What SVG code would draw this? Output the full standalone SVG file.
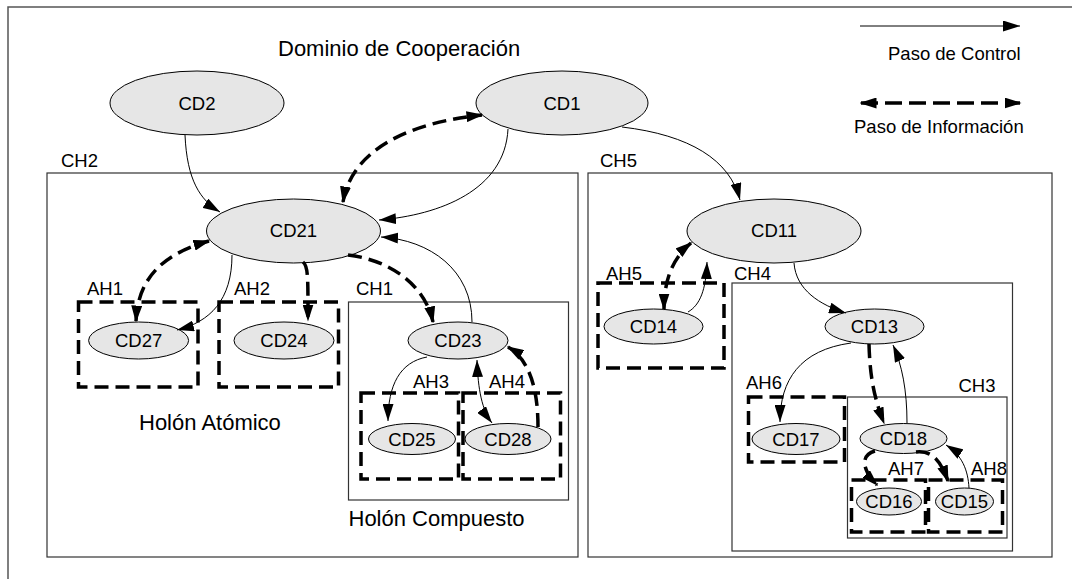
<svg xmlns="http://www.w3.org/2000/svg" width="1072" height="579" viewBox="0 0 1072 579">
<style>
text{font-family:"Liberation Sans",Arial,sans-serif;fill:#000}
.lbl{font-size:18.5px}
.big{font-size:22px}
.nt{font-size:18.5px;text-anchor:middle}
.node{fill:#e6e6e6;stroke:#000;stroke-width:1}
.ch{fill:none;stroke:#333;stroke-width:1.2}
.ah{fill:none;stroke:#000;stroke-width:3.5;stroke-dasharray:14 7}
.ctl{fill:none;stroke:#000;stroke-width:1;marker-end:url(#arr)}
.info{fill:none;stroke:#000;stroke-width:3.5;stroke-dasharray:14 7;marker-end:url(#arrD)}
.both{marker-start:url(#arrD)}
.both1{marker-start:url(#arr)}
</style>
<defs>
<marker id="arr" viewBox="0 0 17 11" refX="17" refY="5.5" markerWidth="17" markerHeight="11" markerUnits="userSpaceOnUse" orient="auto-start-reverse"><path d="M0,0 L17,5.5 L0,11 z" fill="#000"/></marker>
<marker id="arrD" viewBox="0 0 17 11" refX="15.5" refY="5.5" markerWidth="17" markerHeight="11" markerUnits="userSpaceOnUse" orient="auto-start-reverse"><path d="M0,0 L17,5.5 L0,11 z" fill="#000"/></marker>
</defs>
<rect x="0" y="0" width="1072" height="579" fill="#fff"/>
<g id="frame"><rect x="8" y="7" width="1100" height="620" fill="none" stroke="#555" stroke-width="1.5"/></g>
<text class="big" x="278" y="56">Dominio de Cooperación</text>
<g id="legend">
<path d="M860,26 L1020,26" class="ctl"/>
<text class="lbl" x="888" y="60">Paso de Control</text>
<path d="M861,103 L1020,103" class="info both" style="stroke-dasharray:17 7"/>
<text class="lbl" x="854" y="133">Paso de Información</text>
</g>
<g id="CH2"><rect class="ch" x="47" y="173" width="531" height="384"/><text class="lbl" x="61" y="167">CH2</text></g>
<g id="CH5"><rect class="ch" x="588" y="173" width="464" height="384"/><text class="lbl" x="600" y="167">CH5</text></g>
<g id="CH1"><rect class="ch" x="348.5" y="302" width="220" height="198"/><text class="lbl" x="356" y="295">CH1</text></g>
<g id="CH4"><rect class="ch" x="732" y="283" width="280.5" height="268"/><text class="lbl" x="734" y="280">CH4</text></g>
<g id="CH3"><rect class="ch" x="847.5" y="397" width="159.5" height="141"/><text class="lbl" x="958.5" y="392">CH3</text></g>
<g id="AH1"><rect class="ah" x="78.5" y="302" width="119.5" height="85"/><text class="lbl" x="87" y="295">AH1</text></g>
<g id="AH2"><rect class="ah" x="219" y="302" width="119.5" height="85"/><text class="lbl" x="234" y="295">AH2</text></g>
<g id="AH3"><rect class="ah" x="361" y="393" width="97.5" height="86"/><text class="lbl" x="413" y="388">AH3</text></g>
<g id="AH4"><rect class="ah" x="463" y="393" width="97.5" height="86"/><text class="lbl" x="489" y="388">AH4</text></g>
<g id="AH5"><rect class="ah" x="598" y="283" width="126" height="85"/><text class="lbl" x="606" y="280">AH5</text></g>
<g id="AH6"><rect class="ah" x="748.5" y="397" width="96" height="65"/><text class="lbl" x="746" y="389">AH6</text></g>
<g id="AH7"><rect class="ah" x="851.5" y="480" width="74" height="52"/><text class="lbl" x="888" y="475">AH7</text></g>
<g id="AH8"><rect class="ah" x="928.5" y="480" width="74" height="52"/><text class="lbl" x="971" y="475">AH8</text></g>
<text class="big" x="139" y="430">Holón Atómico</text>
<text class="big" x="348.5" y="526">Holón Compuesto</text>
<g id="CD2"><ellipse class="node" cx="197" cy="103" rx="87" ry="32"/><text class="nt" x="197" y="109.5">CD2</text></g>
<g id="CD1"><ellipse class="node" cx="562" cy="103" rx="86" ry="32"/><text class="nt" x="562" y="109.5">CD1</text></g>
<g id="CD21"><ellipse class="node" cx="293.5" cy="231" rx="87" ry="32"/><text class="nt" x="293.5" y="237">CD21</text></g>
<g id="CD11"><ellipse class="node" cx="774" cy="231" rx="87" ry="32"/><text class="nt" x="774" y="237">CD11</text></g>
<g id="CD27"><ellipse class="node" cx="138.6" cy="340.5" rx="50" ry="18.5"/><text class="nt" x="138.6" y="347">CD27</text></g>
<g id="CD24"><ellipse class="node" cx="284" cy="340.5" rx="50" ry="18.5"/><text class="nt" x="284" y="347">CD24</text></g>
<g id="CD23"><ellipse class="node" cx="458" cy="340.5" rx="50" ry="18.5"/><text class="nt" x="458" y="347">CD23</text></g>
<g id="CD25"><ellipse class="node" cx="412" cy="439" rx="43.5" ry="15.5"/><text class="nt" x="412" y="445.5">CD25</text></g>
<g id="CD28"><ellipse class="node" cx="508" cy="439" rx="43" ry="15.5"/><text class="nt" x="508" y="445.5">CD28</text></g>
<g id="CD14"><ellipse class="node" cx="653.5" cy="326.5" rx="49.5" ry="17.5"/><text class="nt" x="653.5" y="333">CD14</text></g>
<g id="CD13"><ellipse class="node" cx="874.5" cy="326.5" rx="49.5" ry="17.5"/><text class="nt" x="874.5" y="333">CD13</text></g>
<g id="CD17"><ellipse class="node" cx="796" cy="439" rx="44" ry="15.5"/><text class="nt" x="796" y="445.5">CD17</text></g>
<g id="CD18"><ellipse class="node" cx="903.5" cy="438.5" rx="43.5" ry="15"/><text class="nt" x="903.5" y="445">CD18</text></g>
<g id="CD16"><ellipse class="node" cx="889" cy="501.5" rx="32.5" ry="13.5"/><text class="nt" x="889" y="508">CD16</text></g>
<g id="CD15"><ellipse class="node" cx="964.5" cy="501.5" rx="29" ry="13.5"/><text class="nt" x="964.5" y="508">CD15</text></g>
<g id="connectors">
<path class="ctl" d="M185,135 C187,180 200,200 220,212"/>
<path class="ctl" d="M508,129 C505,190 440,215 379,220"/>
<path class="ctl" d="M622,127 C690,135 730,160 740,200"/>
<path class="ctl" d="M472,322 C472,270 430,240 381,237"/>
<path class="ctl" d="M232,255 C232,300 210,322 177,330"/>
<path class="ctl" d="M427,357 C400,362 388,385 388,421"/>
<path class="ctl both1" d="M477,360 C478,390 482,410 492,423"/>
<path class="ctl" d="M688,312 C700,305 706,290 707,262"/>
<path class="ctl" d="M794,263 C796,290 820,305 846,313"/>
<path class="ctl" d="M851,343 C800,350 780,380 780,422"/>
<path class="ctl" d="M907,423 C907,390 902,365 893,345"/>
<path class="ctl" d="M969,488 C968,470 962,455 946,445"/>
<path class="info both" d="M343,202 C350,160 390,125 482,115"/>
<path class="info both" d="M136,321 C138,280 160,255 209,241"/>
<path class="info" d="M303,262 C308,266 308,275 308,320"/>
<path class="info" d="M348,255 C390,260 425,285 433,322"/>
<path class="info" d="M538,427 C538,390 530,360 508,347"/>
<path class="info both" d="M664,309 C664,285 670,260 691,243"/>
<path class="info" d="M869,344 C870,380 875,400 884,423"/>
<path class="info" d="M875,451 C860,455 862,470 877,485"/>
<path class="info" d="M916,452 C935,450 942,465 948,481"/>
</g>
</svg>
